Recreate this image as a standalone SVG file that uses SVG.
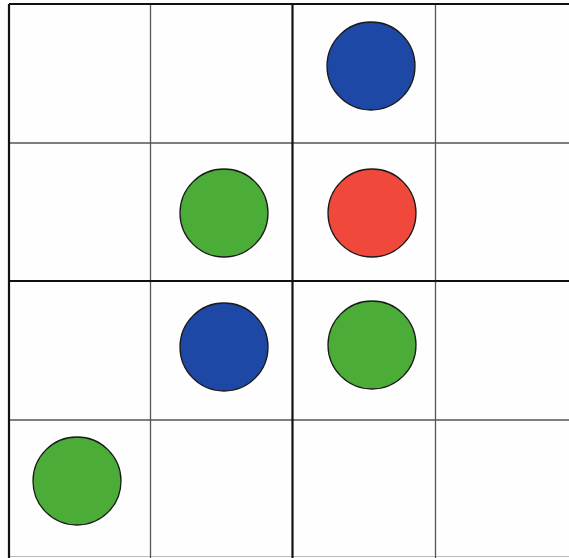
<svg xmlns="http://www.w3.org/2000/svg" width="569" height="558" viewBox="0 0 569 558">
<style>
.thin{stroke:#555;stroke-width:1.3;fill:none}
.thick{stroke:#111;stroke-width:2.2;fill:none}
.faint{stroke:#bbb;stroke-width:1;fill:none}
.dot{stroke:#1a1a1a;stroke-width:1.3}
.blue{fill:#1d48a6}
.red{fill:#f0483b}
.green{fill:#4bac38}
</style>
<rect width="569" height="558" fill="#fefefe"/>
<g id="grid">
<line class="faint" x1="9" y1="556.5" x2="569" y2="556.5"/>
<line class="thin" x1="150.5" y1="4" x2="150.5" y2="558"/>
<line class="thin" x1="435.5" y1="4" x2="435.5" y2="558"/>
<line class="thin" x1="9" y1="143" x2="569" y2="143"/>
<line class="thin" x1="9" y1="420" x2="569" y2="420"/>
<line class="thick" x1="292.5" y1="4" x2="292.5" y2="558"/>
<line class="thick" x1="9" y1="281" x2="569" y2="281"/>
<line class="thick" x1="9" y1="4" x2="569" y2="4"/>
<line class="thick" x1="9" y1="4" x2="9" y2="558"/>
</g>
<g id="c1"><circle class="dot blue" cx="371" cy="66" r="44"/></g>
<g id="c2"><circle class="dot green" cx="224" cy="213" r="44"/></g>
<g id="c3"><circle class="dot red" cx="372" cy="213" r="44"/></g>
<g id="c4"><circle class="dot blue" cx="224" cy="347" r="44"/></g>
<g id="c5"><circle class="dot green" cx="372" cy="345" r="44"/></g>
<g id="c6"><circle class="dot green" cx="77" cy="481" r="44"/></g>
</svg>
